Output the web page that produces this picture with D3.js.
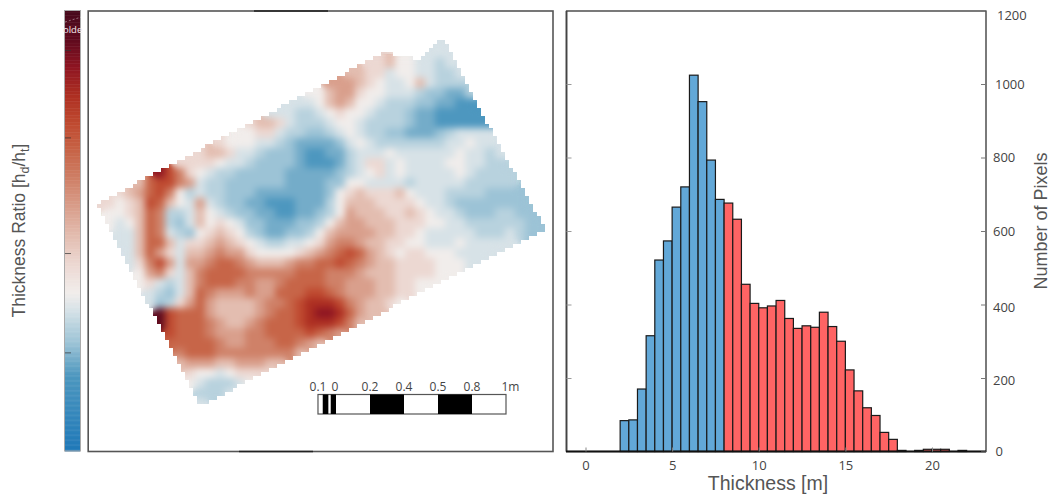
<!DOCTYPE html>
<html><head><meta charset="utf-8">
<style>html,body{margin:0;padding:0;background:#fff}svg{display:block}</style>
<script src="https://cdn.jsdelivr.net/npm/d3@7/dist/d3.min.js"></script>
</head><body><svg id="c" width="1051" height="498"></svg>
<script>
// Histogram data
const binStarts = [2,2.5,3,3.5,4,4.5,5,5.5,6,6.5,7,7.5,8,8.5,9,9.5,10,10.5,11,11.5,12,12.5,13,13.5,14,14.5,15,15.5,16,16.5,17,17.5,18,19,19.5,20,20.5,21.5];
const pixelCounts = [84,86,170,315,521,573,665,720,1024,952,793,686,676,632,455,403,391,396,411,362,335,342,338,379,340,300,222,165,119,98,52,33,3,3,6,6,6,3];
const splitThickness = 8;
const binWidth = 0.5;
const xTicks = [0,5,10,15,20];
const yTicks = [0,200,400,600,800,1000,1200];
// Thickness-ratio map: a..e = blue levels, 0 = neutral, 1..9 = red levels, "." = no data
const levelCodes = {a:-1,b:-2,c:-3,d:-4,e:-5};
const ratioRows = [
"..... ..... ..... ..... ..... ..... ....a ..... .....",
"..... ..... ..... ..... ..... ..... ...aa a.... .....",
"..... ..... ..... ..... ..... ..112 00aab a.... .....",
"..... ..... ..... ..... ..... 2211a 00aab ba... .....",
"..... ..... ..... ..... ...33 3210a a02ab bb... .....",
"..... ..... ..... ..... .0023 3100a aabcc ddb.. .....",
"..... ..... ..... ....a aa023 200ab bbccd dee.. .....",
"..... ..... ..... ..aaa bba01 00abb bcdde eeeee .....",
"..... ..... ..... 1221a bbba0 0abbb bcdde eeeee .....",
"..... ..... ....0 011ab bccba 0abbc cdddc baaaa .....",
"..... ..... ..100 0aabc ddddc a0abb bbbbb aa0aa .....",
"..... ..... 1221a abccc deedd baaa0 aaaaa a0aab a....",
"..... ...11 110aa bcccc deeed ba11a 0aaaa 00aab b....",
"..... .8641 0abbc ccccd ddddc ba01a 0aaaa a0abb bb...",
"....2 56643 abbcc ccccd dddcc 00aaa abaaa aabbb bb...",
"..123 5640b abbcc cdddd dddc0 12111 20aaa bbbbc ccc..",
"11012 6520a 3abcc ddeee dddb0 22211 110aa bcccc ccc..",
".0012 54bba 20abc cddee ddcb0 32221 1210a abccc bbcc.",
".0a02 54bca 2010a ccddd ccb02 33222 11100 aabbb bbbcc c",
"..aa2 54abc 01210 bcddc cb023 33322 110aa aaabb babcc c",
"..aa2 552a1 12321 0abba a0134 43221 100aa a0aaa aa...",
"...a2 531a2 23433 10000 12345 65321 01100 0aaaa .....",
"...a1 463a3 34554 32223 44556 54322 11110 00aa. .....",
"....0 341a2 45555 44444 55544 43222 11110 00a.. .....",
"....0 1aba2 45554 43345 55544 33322 11000 ..... .....",
"..... abca2 54333 43355 56654 33322 110.. ..... .....",
"..... acb13 53222 23445 67776 43221 0.... ..... .....",
"..... .9655 53222 23455 67887 5322. ..... ..... .....",
"..... .9655 54322 34555 67776 42... ..... ..... .....",
"..... ..655 54333 44555 56543 ..... ..... ..... .....",
"..... ..555 55433 44455 432.. ..... ..... ..... .....",
"..... ...45 55444 44444 2.... ..... ..... ..... .....",
"..... ...23 33223 3322. ..... ..... ..... ..... .....",
"..... ....1 00a01 111.. ..... ..... ..... ..... .....",
"..... ....0 abbba 0.... ..... ..... ..... ..... .....",
"..... ..... bbba. ..... ..... ..... ..... ..... .....",
"..... ..... a.... ..... ..... ..... ..... ..... ....."
].map(r => r.replace(/ /g,""));
// Map outline, in grid units (columns, rows)
const mapOutline = [[0.2,16.6],[29,1.4],[32.5,2.2],[34.8,0],[39.5,9],[45,19.1],[10.5,36.8]];
const colourStops = [-9.5,-5,-4,-3,-2,-1,0,1,2,3,4,5,6,7,8,9,10];
const colourValues = ["#1f78b8","#4d97bf","#74acc9","#9cc3d6","#b8d2de","#d7e2e7","#f1edeb","#ecd8d2","#e3bdb0","#d99f8c","#cf8168","#c76548","#bf4a30","#ad2f22","#8e1522","#5e0a1e","#470a1c"];
const barTicksValues = [8.6,5.5,1.4,-3.6];
const scaleLabels = ["0.1","0","0.2","0.4","0.5","0.8","1m"];
const scaleSteps = [-0.53,0,1,2,3,4,5];

const svg = d3.select("#c");
const ink = "#444";
const tickFont = "'Open Sans'";
const titleFont = "'Liberation Sans'";

// ---------- colour bar ----------
const colour = d3.scaleLinear().domain(colourStops).range(colourValues);
const barY = d3.scaleLinear().domain([-9.5,0,10]).range([451,293,11]);
const barRange = d3.range(-9.5,10,0.05);
svg.append("g").selectAll("rect").data(barRange).join("rect")
  .attr("x",65).attr("width",15)
  .attr("y",d=>barY(d+0.05)).attr("height",d=>barY(d)-barY(d+0.05)+0.5)
  .attr("fill",d=>colour(d));
svg.append("rect").attr("x",64.5).attr("y",10.5).attr("width",16).attr("height",440.5)
  .attr("fill","none").attr("stroke","#aaa");
svg.append("g").selectAll("line").data(barTicksValues).join("line")
  .attr("x1",65).attr("x2",71).attr("y1",d=>barY(d)).attr("y2",d=>barY(d))
  .attr("stroke","#333").attr("stroke-opacity",0.7);
svg.append("line").attr("x1",65).attr("x2",88).attr("y1",22).attr("y2",15).attr("stroke","#fff").attr("stroke-opacity",0.4).attr("stroke-dasharray","2 2");
svg.append("text").attr("x",63).attr("y",33).attr("font-family",tickFont).attr("font-size",9.5).attr("fill","#f4e8e8").text("olde");

const lab = svg.append("text").attr("transform","translate(25,230.5) rotate(-90)")
  .attr("text-anchor","middle").attr("font-family",titleFont).attr("font-size",17.5).attr("fill","#555");
lab.append("tspan").text("Thickness Ratio [h");
lab.append("tspan").attr("dy",4).attr("font-size",12.5).text("d");
lab.append("tspan").attr("dy",-4).text("/h");
lab.append("tspan").attr("dy",4).attr("font-size",12.5).text("t");
lab.append("tspan").attr("dy",-4).text("]");

// ---------- map panel ----------
const defs = svg.append("defs");
const f = defs.append("filter").attr("id","smooth")
  .attr("filterUnits","userSpaceOnUse").attr("x",60).attr("y",10).attr("width",520).attr("height",440)
  .attr("color-interpolation-filters","sRGB");
f.append("feGaussianBlur").attr("in","SourceGraphic").attr("stdDeviation",9).attr("result","wide");
f.append("feComponentTransfer").attr("in","wide").attr("result","wideSolid").append("feFuncA").attr("type","linear").attr("slope",30).attr("intercept",-0.5);
f.append("feGaussianBlur").attr("in","SourceGraphic").attr("stdDeviation",3.6).attr("result","fine");
f.append("feComponentTransfer").attr("in","fine").attr("result","fineSolid").append("feFuncA").attr("type","linear").attr("slope",20).attr("intercept",-2);
const mg = f.append("feMerge");
mg.append("feMergeNode").attr("in","wideSolid");
mg.append("feMergeNode").attr("in","fineSolid");

const mapX = d3.scaleBand().domain(d3.range(45)).range([95,545]);
const mapY = d3.scaleBand().domain(d3.range(ratioRows.length)).range([38,408]);
const gridX = d3.scaleLinear().domain([0,45]).range([95,545]);
const gridY = d3.scaleLinear().domain([0,37]).range([38,408]);
const outlinePx = mapOutline.map(p=>[gridX(p[0]),gridY(p[1])]);
const stair = d3.path();
const blk = 4;
for(let py=36;py<410;py+=blk) for(let px=93;px<550;px+=blk){
  if(d3.polygonContains(outlinePx,[px+blk/2,py+blk/2])) stair.rect(px,py,blk,blk);
}
defs.append("clipPath").attr("id","stair").append("path").attr("d",stair.toString());
const cells = [];
ratioRows.forEach((row,j)=>{ for(let i=0;i<row.length;i++){ const c=row[i]; if(c===".")continue;
  cells.push({i,j,v: c in levelCodes ? levelCodes[c] : +c}); }});
svg.append("g").attr("clip-path","url(#stair)")
 .append("g").attr("filter","url(#smooth)").selectAll("rect").data(cells).join("rect")
  .attr("x",d=>mapX(d.i)).attr("y",d=>mapY(d.j))
  .attr("width",mapX.bandwidth()+0.5).attr("height",mapY.bandwidth()+0.5)
  .attr("fill",d=>colour(d.v));
svg.append("rect").attr("x",88.2).attr("y",11).attr("width",464.8).attr("height",440.5)
  .attr("fill","none").attr("stroke","#555").attr("stroke-width",1.6);
svg.append("line").attr("x1",254).attr("x2",328).attr("y1",11).attr("y2",11).attr("stroke","#222").attr("stroke-width",1.6);
svg.append("line").attr("x1",239).attr("x2",313).attr("y1",451.5).attr("y2",451.5).attr("stroke","#222").attr("stroke-width",1.6);

// scale bar
const sb = d3.scaleLinear().domain([0,5]).range([336,506]);
const sbG = svg.append("g");
sbG.append("rect").attr("x",sb(-0.53)).attr("y",394.5).attr("width",sb(5)-sb(-0.53)).attr("height",19.5).attr("fill","#fff").attr("stroke","#555").attr("stroke-width",1.2);
const sbBlack = [[-0.39,-0.225],[-0.155,0],[1,2],[3,4]];
sbG.selectAll(".k").data(sbBlack).join("rect").attr("class","k")
  .attr("x",d=>sb(d[0])).attr("y",394.5).attr("width",d=>sb(d[1])-sb(d[0])).attr("height",19.5).attr("fill","#000");
sbG.selectAll("text").data(scaleLabels).join("text")
  .attr("x",(d,i)=>sb(scaleSteps[i])+(d==="0"?-1:d==="1m"?4.5:0)).attr("y",391)
  .attr("text-anchor","middle").attr("font-family",tickFont).attr("font-size",12).attr("fill",ink).text(d=>d);

// ---------- histogram ----------
const x = d3.scaleLinear().domain([0,20]).range([585.5,932]);
const y = d3.scaleLinear().domain([0,1200]).range([451.5,10.5]);
const hist = binStarts.map((b,i)=>({b,n:pixelCounts[i]}));
svg.append("g").selectAll("rect").data(hist).join("rect")
  .attr("x",d=>x(d.b)).attr("width",d=>x(d.b+binWidth)-x(d.b))
  .attr("y",d=>y(d.n)).attr("height",d=>y(0)-y(d.n))
  .attr("fill",d=>d.b<splitThickness?"#62a8d8":"#ff6464")
  .attr("stroke","#1a1a1a").attr("stroke-width",1.2);
// frame
svg.append("rect").attr("x",566.5).attr("y",11).attr("width",419.5).attr("height",440.5)
  .attr("fill","none").attr("stroke","#222").attr("stroke-width",1.2);
svg.append("line").attr("x1",566.5).attr("x2",566.5).attr("y1",11).attr("y2",451.5).attr("stroke","#444").attr("stroke-width",1.8);
svg.append("line").attr("x1",566).attr("x2",986).attr("y1",451.5).attr("y2",451.5).attr("stroke","#111").attr("stroke-width",1.8);

const gxA = svg.append("g").attr("transform","translate(0,451.5)")
  .call(d3.axisBottom(x).tickValues(xTicks).tickSize(-4).tickPadding(9));
gxA.select(".domain").remove();
gxA.selectAll("line").attr("stroke","#888");
gxA.selectAll("text").attr("font-family",tickFont).attr("font-size",13).attr("fill",ink);

const gyR = svg.append("g").attr("transform","translate(986,0)")
  .call(d3.axisRight(y).tickValues(yTicks).tickSize(-5).tickPadding(7).tickFormat(d3.format("d")));
gyR.select(".domain").remove();
gyR.selectAll("line").attr("stroke","#777");
gyR.selectAll("text").attr("font-family",tickFont).attr("font-size",13).attr("fill",ink)
  .attr("text-anchor","start")
  .attr("x",d=>d===1200?11:d===1000?9:d===0?9.5:7)
  .attr("dy",d=>d===1200?"0.69em":d===400||d===200?"0.52em":"0.32em");
const gyL = svg.append("g").attr("transform","translate(566.5,0)")
  .call(d3.axisLeft(y).tickValues(yTicks.filter(d=>d>0&&d<1200)).tickSize(-5).tickFormat(""));
gyL.select(".domain").remove();
gyL.selectAll("line").attr("stroke","#999");

svg.append("text").attr("x",768).attr("y",490).attr("text-anchor","middle")
  .attr("font-family",titleFont).attr("font-size",19.5).attr("fill","#555").text("Thickness [m]");
svg.append("text").attr("transform","translate(1047,221) rotate(-90)").attr("text-anchor","middle")
  .attr("font-family",titleFont).attr("font-size",18).attr("fill","#555").text("Number of Pixels");
</script></body></html>
